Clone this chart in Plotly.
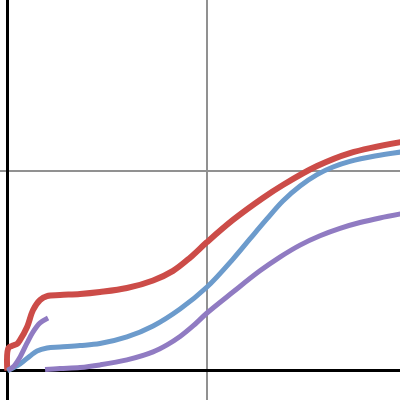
import plotly.graph_objects as go

# Red curve
red_x = [0.0, 0.006, 0.028, 0.049, 0.064, 0.099, 0.129, 0.164, 0.199, 0.264, 0.364, 0.464,
         0.599, 0.730, 0.830, 0.915, 1.0, 1.130, 1.280, 1.380, 1.551, 1.716, 1.97]
red_y = [0.0, 0.114, 0.126, 0.134, 0.154, 0.219, 0.304, 0.354, 0.374, 0.379, 0.384, 0.394,
         0.414, 0.452, 0.500, 0.566, 0.644, 0.755, 0.865, 0.930, 1.025, 1.090, 1.145]

# Blue curve
blue_x = [0.0, 0.064, 0.114, 0.149, 0.199, 0.264, 0.364, 0.464, 0.599, 0.730, 0.865,
          1.0, 1.130, 1.215, 1.300, 1.380, 1.466, 1.551, 1.631, 1.716, 1.841, 1.97]
blue_y = [0.0, 0.034, 0.074, 0.099, 0.114, 0.119, 0.126, 0.136, 0.169, 0.224, 0.309,
          0.419, 0.559, 0.660, 0.760, 0.850, 0.925, 0.982, 1.020, 1.048, 1.075, 1.095]

# Purple curve, first (short) piece
purple1_x = [0.004, 0.034, 0.064, 0.099, 0.129, 0.164, 0.204]
purple1_y = [0.004, 0.024, 0.069, 0.139, 0.194, 0.239, 0.264]

# Purple curve, second piece
purple2_x = [0.189, 0.264, 0.364, 0.464, 0.599, 0.730, 0.800, 0.865, 0.930, 1.0, 1.130,
             1.265, 1.365, 1.466, 1.566, 1.666, 1.766, 1.866, 1.97]
purple2_y = [0.006, 0.011, 0.016, 0.029, 0.054, 0.094, 0.129, 0.171, 0.224, 0.289, 0.394,
             0.500, 0.569, 0.629, 0.676, 0.713, 0.742, 0.765, 0.785]

RED = "rgb(204,76,72)"
BLUE = "rgb(108,155,204)"
PURPLE = "rgb(144,123,194)"

fig = go.Figure()
fig.add_trace(go.Scatter(x=red_x, y=red_y, mode="lines",
                         line=dict(color=RED, width=6, shape="spline", smoothing=1.0)))
fig.add_trace(go.Scatter(x=blue_x, y=blue_y, mode="lines",
                         line=dict(color=BLUE, width=5, shape="spline", smoothing=1.0)))
fig.add_trace(go.Scatter(x=purple1_x, y=purple1_y, mode="lines",
                         line=dict(color=PURPLE, width=5, shape="spline", smoothing=1.0)))
fig.add_trace(go.Scatter(x=purple2_x, y=purple2_y, mode="lines",
                         line=dict(color=PURPLE, width=5, shape="spline", smoothing=1.0)))

axis_common = dict(showticklabels=False, ticks="", dtick=1, tick0=0,
                   showgrid=True, gridcolor="rgb(145,145,145)", gridwidth=2,
                   zeroline=True, zerolinecolor="black", zerolinewidth=3,
                   showline=False, fixedrange=True)

fig.update_layout(
    width=400, height=400, autosize=False,
    margin=dict(l=0, r=0, t=0, b=0, pad=0),
    paper_bgcolor="white", plot_bgcolor="white",
    showlegend=False,
    xaxis=dict(range=[-0.0366, 1.9665], **axis_common),
    yaxis=dict(range=[-0.1467, 1.8563], **axis_common),
)

fig.write_html("out.html", config={"displayModeBar": False},
               post_script="document.body.style.margin='0px';document.body.style.overflow='hidden';")
